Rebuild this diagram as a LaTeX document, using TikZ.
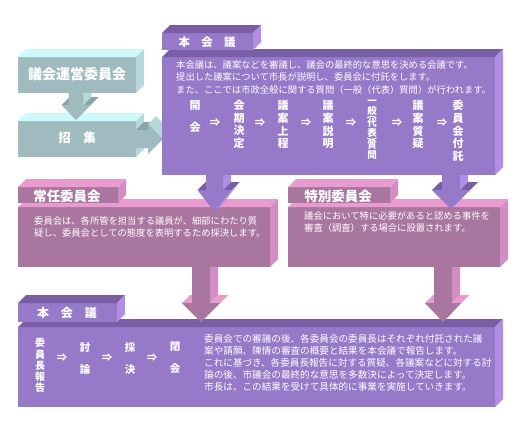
\documentclass[tikz,border=0pt]{standalone}
\usepackage{fontspec}
\setmainfont{Noto Sans CJK JP}
\usetikzlibrary{positioning}
\definecolor{grayfront}{HTML}{9FBBC0}
\definecolor{graytop}{HTML}{CCFAFA}
\definecolor{grayside}{HTML}{B6D8DA}
\definecolor{grayledge}{HTML}{88A4A8}
\definecolor{purplefront}{HTML}{9679C8}
\definecolor{purpletop}{HTML}{7A5EA5}
\definecolor{purpleside}{HTML}{B08EE6}
\definecolor{mauvefront}{HTML}{A9769F}
\definecolor{pinktop}{HTML}{E99BD0}
\definecolor{pinkside}{HTML}{D28EC2}

% front face as a named node, top and side faces behind it
\newcommand{\slab}[8]{%
  \node[panel, fill=#6, minimum width=#4pt, minimum height=#5pt] (#1) at (#2,#3) {};
  \fill[#7] (#1.north west) -- ++(8,-8) -- ([shift={(8,-8)}]#1.north east) -- (#1.north east) -- cycle;
  \fill[#8] (#1.north east) -- ++(8,-8) -- ([shift={(8,-8)}]#1.south east) -- (#1.south east) -- cycle;
}
% block arrow pointing down: cx, shaft half width, head half width, top, head, tip
\newcommand{\downblock}[9]{%
  \fill[#9] (#1+#2,#4) -- (#1+#2+8,#4) -- (#1+#2+8,#5-8) -- (#1+#2,#5) -- cycle;
  \fill[#8] (#1-#3,#5) -- (#1-#3+8,#5-8) -- (#1-#2+8,#5-8) -- (#1-#2,#5) -- cycle;
  \fill[#8] (#1+#2,#5) -- (#1+#2+8,#5-8) -- (#1+#3+8,#5-8) -- (#1+#3,#5) -- cycle;
  \fill[#9] (#1+#3,#5) -- (#1+#3+8,#5-8) -- (#1+8,#6-8) -- (#1,#6) -- cycle;
  \fill[#7] (#1-#2,#4) -- (#1+#2,#4) -- (#1+#2,#5) -- (#1+#3,#5) -- (#1,#6)
    -- (#1-#3,#5) -- (#1-#2,#5) -- cycle;
}
% upright parentheses for vertical text
\newcommand{\vopen}{\rotatebox[origin=c]{-90}{(}}
\newcommand{\vclose}{\rotatebox[origin=c]{-90}{)}}

\begin{document}
\begin{tikzpicture}[
  x=1pt, y=-1pt,
  panel/.style={rectangle, inner sep=0pt, outer sep=0pt, anchor=north west},
  title/.style={text=white, inner sep=0pt, font=\fontsize{13.5}{14}\selectfont\bfseries},
  body/.style={text=white, inner sep=0pt, align=left, anchor=north west,
    font=\fontsize{9.3}{12.5}\selectfont},
  stepv/.style={text=white, inner sep=0pt, align=center, anchor=north,
    font=\fontsize{11}{12.7}\selectfont\bfseries},
  thenarrow/.style={text=white, inner sep=0pt, font=\fontsize{10.5}{12}\selectfont\bfseries},
]
  \path[fill=white] (0,0) rectangle (520,421);

  % Steering committee and convocation
  \slab{steer}{18}{57}{118}{36}{grayfront}{graytop}{grayside}
  \slab{convo}{18}{121}{118}{36}{grayfront}{graytop}{grayside}
  \downblock{76}{7.5}{14.5}{93}{105}{120}{grayfront}{grayledge}{grayside}

  % Arrow into the plenary
  \fill[grayledge] (136,130) -- (144,122) -- (156,122) -- (148,130) -- cycle;
  \fill[grayside] (148,124) -- (156,116) -- (171,131) -- (163,139) -- cycle;
  \fill[grayfront] (136,130) -- (148,130) -- (148,124) -- (163,139) -- (148,154)
    -- (148,148) -- (136,148) -- cycle;

  % Plenary (first)
  \slab{plenA}{162}{57}{333}{118}{purplefront}{purpletop}{purpleside}
  \slab{plenAtab}{162}{33}{91}{17}{purplefront}{purpletop}{purpleside}

  % Committees
  \slab{standing}{18}{207}{252}{60}{mauvefront}{pinktop}{pinkside}
  \slab{standingtab}{18}{187}{100}{16}{mauvefront}{pinktop}{pinkside}
  \slab{special}{288}{207}{212}{60}{mauvefront}{pinktop}{pinkside}
  \slab{specialtab}{288}{187}{102}{16}{mauvefront}{pinktop}{pinkside}
  \downblock{214.5}{8.5}{17}{175}{190}{212}{purplefront}{purpletop}{purpleside}
  \downblock{451}{9}{19}{175}{190}{209}{purplefront}{purpletop}{purpleside}

  % Plenary (second)
  \slab{plenB}{18}{327}{477}{80}{purplefront}{purpletop}{purpleside}
  \slab{plenBtab}{18}{303}{99}{19}{purplefront}{purpletop}{purpleside}
  \downblock{201}{9}{19}{267}{303}{322}{mauvefront}{pinktop}{pinkside}
  \downblock{443}{9}{18}{267}{303}{322}{mauvefront}{pinktop}{pinkside}

  % Titles
  \node[title, font=\fontsize{14}{15}\selectfont\bfseries] (steertitle) at (77,74) {議会運営委員会};
  \node[title, font=\fontsize{12.5}{14}\selectfont\bfseries] (convotitle) at (77,138) {招　集};
  \node[title, font=\fontsize{11.4}{14}\selectfont\bfseries] (plenAtitle) at (207,42) {本　会　議};
  \node[title] (standingtitle) at (67,196) {常任委員会};
  \node[title] (specialtitle) at (338,196) {特別委員会};
  \node[title, font=\fontsize{12}{14}\selectfont\bfseries] (plenBtitle) at (67,313) {本　会　議};

  % Texts
  \node[body] (plenAtext) at (176,60) {本会議は、議案などを審議し、議会の最終的な意思を決める会議です。\\
    提出した議案について市長が説明し、委員会に付託をします。\\
    また、ここでは市政全般に関する質問（一般（代表）質問）が行われます。};
  \node[body] (standingtext) at (34,216) {委員会は、各所管を担当する議員が、細部にわたり質\\
    疑し、委員会としての態度を表明するため採決します。};
  \node[body] (specialtext) at (304,211) {議会において特に必要があると認める事件を\\
    審査（調査）する場合に設置されます。};
  \node[body, font=\fontsize{9.6}{12}\selectfont] (plenBtext) at (204,334) {委員会での審議の後、各委員会の委員長はそれぞれ付託された議\\
    案や請願、陳情の審査の概要と結果を本会議で報告します。\\
    これに基づき、各委員長報告に対する質疑、各議案などに対する討\\
    論の後、市議会の最終的な意思を多数決によって決定します。\\
    市長は、この結果を受けて具体的に事業を実施していきます。};

  % Steps of the first plenary
  \node[stepv] (open) at (195,100) {開\\[10pt]会};
  \node[stepv] (term) at (239,100) {会\\期\\決\\定};
  \node[stepv] (table) at (283,100) {議\\案\\上\\程};
  \node[stepv] (explain) at (328,100) {議\\案\\説\\明};
  \node[stepv, font=\fontsize{9.5}{10}\selectfont\bfseries] (general) at (372,100)
    {一\\般\\[-4pt]\vopen\\[-4pt]代\\表\\[-4pt]\vclose\\[-4pt]質\\問};
  \node[stepv] (query) at (418,100) {議\\案\\質\\疑};
  \node[stepv] (refer) at (458,100) {委\\員\\会\\付\\託};
  \foreach \x/\n in {215/a1, 260/a2, 306/a3, 351/a4, 397/a5, 442/a6}
    \node[thenarrow] (\n) at (\x,123) {⇒};

  % Steps of the second plenary
  \node[stepv, font=\fontsize{10}{11.3}\selectfont\bfseries] (report) at (40,338) {委\\員\\長\\報\\告};
  \node[stepv, font=\fontsize{10.5}{11.3}\selectfont\bfseries] (debate) at (85,342) {討\\[10.7pt]論};
  \node[stepv, font=\fontsize{10.5}{11.3}\selectfont\bfseries] (vote) at (130,342) {採\\[10.7pt]決};
  \node[stepv, font=\fontsize{10.5}{11.3}\selectfont\bfseries] (close) at (175,342) {閉\\[10.7pt]会};
  \foreach \x/\n in {62/b1, 107/b2, 152/b3}
    \node[thenarrow] (\n) at (\x,358) {⇒};
\end{tikzpicture}
\end{document}
